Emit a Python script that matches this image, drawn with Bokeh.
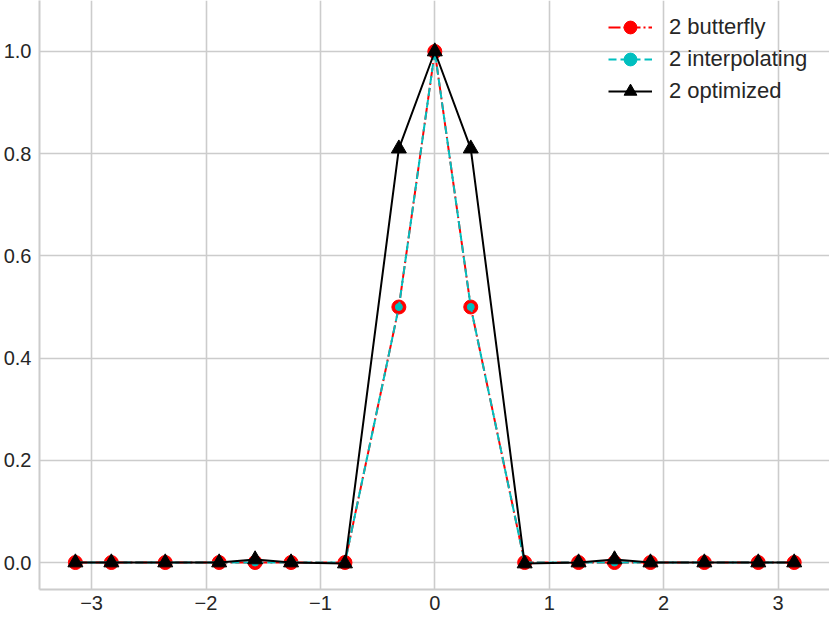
from bokeh.plotting import figure
from bokeh.models import Legend, LegendItem, FixedTicker, PrintfTickFormatter, Range1d
from bokeh.embed import file_html
from bokeh.resources import INLINE

# ---- data ----
x_vals = [-3.1416, -2.8274, -2.3562, -1.885, -1.5708, -1.2566, -0.7854, -0.3142, 0.0,
          0.3142, 0.7854, 1.2566, 1.5708, 1.885, 2.3562, 2.8274, 3.1416]
butterfly = [0, 0, 0, 0, 0, 0, 0, 0.5, 1.0, 0.5, 0, 0, 0, 0, 0, 0, 0]
interpolating = [0, 0, 0, 0, 0, 0, 0, 0.5, 1.0, 0.5, 0, 0, 0, 0, 0, 0, 0]
optimized = [0, 0, 0, 0, 0.006, 0, -0.002, 0.81, 1.0, 0.81, -0.002, 0, 0.006, 0, 0, 0, 0]
series_names = ["2 butterfly", "2 interpolating", "2 optimized"]
x_ticks = [-3, -2, -1, 0, 1, 2, 3]
x_tick_labels = ["\u22123", "\u22122", "\u22121", "0", "1", "2", "3"]
y_ticks = [0.0, 0.2, 0.4, 0.6, 0.8, 1.0]

FONT = "Liberation Sans"
GRID = "#cccccc"
TXT = "#262626"

p = figure(width=829, height=617, output_backend="svg", toolbar_location=None,
           x_range=Range1d(-3.4554, 3.450), y_range=Range1d(-0.0528, 1.0998),
           min_border_left=39, min_border_right=0, min_border_top=0, min_border_bottom=28)
p.outline_line_color = None
p.background_fill_color = "white"

for ax in (p.xaxis[0], p.yaxis[0]):
    ax.axis_line_color = GRID
    ax.axis_line_width = 2
    ax.major_tick_line_color = None
    ax.minor_tick_line_color = None
    ax.major_tick_out = 0
    ax.major_tick_in = 0
    ax.minor_tick_out = 0
    ax.minor_tick_in = 0
    ax.major_label_text_font = FONT
    ax.major_label_text_font_size = "20px"
    ax.major_label_text_color = TXT
p.xaxis[0].major_label_standoff = 6
p.yaxis[0].major_label_standoff = 8

p.xaxis[0].ticker = FixedTicker(ticks=x_ticks)
p.xaxis[0].major_label_overrides = {t: l for t, l in zip(x_ticks, x_tick_labels)}
p.yaxis[0].ticker = FixedTicker(ticks=y_ticks)
p.yaxis[0].formatter = PrintfTickFormatter(format="%.1f")

p.grid.grid_line_color = GRID
p.grid.grid_line_width = 1.6

# butterfly (red, dash-dot, big circles)
r1l = p.line(x_vals, butterfly, line_color="red", line_width=2, line_dash="12 3 2 3")
r1m = p.scatter(x_vals, butterfly, marker="circle", size=14, fill_color="red", line_color="red")
# interpolating (cyan, dashed, small dots)
r2l = p.line(x_vals, interpolating, line_color="#00bfbf", line_width=2, line_dash="8 4")
r2m = p.scatter(x_vals, interpolating, marker="circle", size=7, fill_color="#00bfbf", line_color="#00bfbf")
# optimized (black, solid, triangles)
r3l = p.line(x_vals, optimized, line_color="black", line_width=2)
r3m = p.scatter(x_vals, optimized, marker="triangle", size=15, fill_color="black", line_color="black")

legend = Legend(items=[
    LegendItem(label=series_names[0], renderers=[r1l, r1m]),
    LegendItem(label=series_names[1], renderers=[r2l, r2m]),
    LegendItem(label=series_names[2], renderers=[r3l, r3m]),
], location=(569, 482))
legend.border_line_color = None
legend.background_fill_alpha = 0
legend.label_text_font = FONT
legend.label_text_font_size = "22px"
legend.label_text_color = TXT
legend.glyph_width = 44
legend.glyph_height = 32
legend.label_height = 32
legend.spacing = 0
legend.label_standoff = 17
legend.margin = 0
legend.padding = 10
p.add_layout(legend, "center")

open("out.html", "w").write(file_html(p, INLINE))
